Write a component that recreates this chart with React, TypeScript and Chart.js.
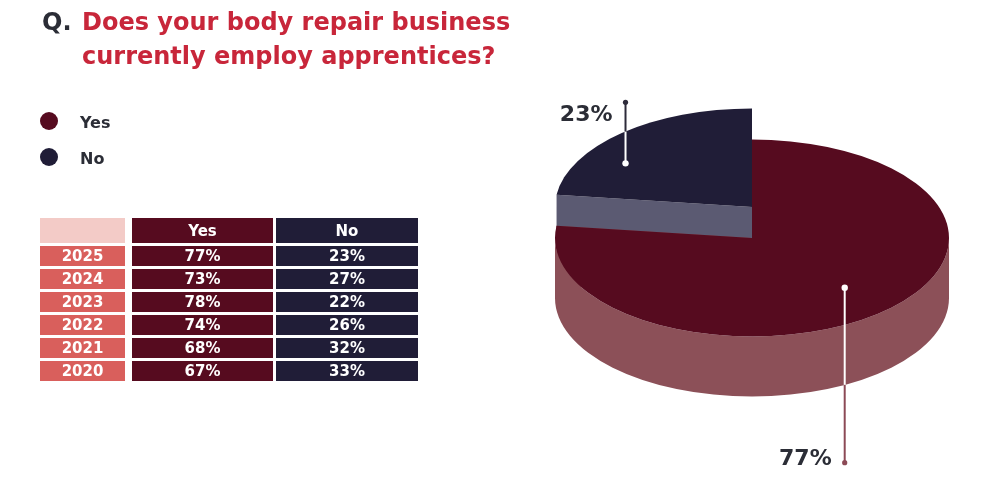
import React, { useEffect, useRef } from 'react';
import { Chart, registerables } from 'chart.js';

Chart.register(...registerables);

// ---- data ----
const SLICE_LABELS = ['Yes', 'No'];
const SLICE_VALUES = [77, 23];
const YEARS = ['2025', '2024', '2023', '2022', '2021', '2020'];
const YES_PCT = [77, 73, 78, 74, 68, 67];
const NO_PCT = [23, 27, 22, 26, 32, 33];
const TITLE_PREFIX = 'Q.';
const TITLE_LINES = ['Does your body repair business', 'currently employ apprentices?'];

// ---- style ----
const FONT = '"DejaVu Sans", "Noto Sans", sans-serif';
const TOP_COLORS = ['#560b1f', '#201d37'];
const SIDE_COLORS = ['#8c5058', '#5b5a72'];
const LEADER_COLORS = ['#8c4a56', '#2d2b3a'];
const TEXT_DARK = '#2b2d36';
const TITLE_RED = '#c8263a';
const YEAR_BG = '#d95f5c';
const HEAD_BG = '#f3cbc7';

const pie3d = {
  id: 'pie3d',
  beforeDatasetsDraw(chart: any, _args: any, opts: any) {
    const ctx: CanvasRenderingContext2D = chart.ctx;
    const meta = chart.getDatasetMeta(0);
    const values = chart.data.datasets[0].data as number[];
    const d = opts.depth;
    const slices = meta.data.map((arc: any, i: number) => {
      const p = arc.getProps(['x', 'y', 'startAngle', 'endAngle', 'outerRadius'], true);
      const rx = p.outerRadius;
      const ry = rx * opts.tilt;
      return {
        i,
        cx: p.x,
        cy: p.y - (opts.lift[i] || 0),
        rx,
        ry,
        a0: p.startAngle,
        a1: p.endAngle,
        color: arc.options.backgroundColor,
      };
    });
    const mid = (s: any) => (s.a0 + s.a1) / 2;
    const order = [...slices].sort(
      (a: any, b: any) => a.cy + a.ry * Math.sin(mid(a)) - (b.cy + b.ry * Math.sin(mid(b)))
    );

    for (const s of order) {
      ctx.save();
      ctx.fillStyle = opts.sideColors[s.i];
      // radial faces
      for (const a of [s.a0, s.a1]) {
        const ex = s.cx + s.rx * Math.cos(a);
        const ey = s.cy + s.ry * Math.sin(a);
        ctx.beginPath();
        ctx.moveTo(s.cx, s.cy);
        ctx.lineTo(ex, ey);
        ctx.lineTo(ex, ey + d);
        ctx.lineTo(s.cx, s.cy + d);
        ctx.closePath();
        ctx.fill();
      }
      // outer wall (front half only)
      for (let n = -1; n <= 2; n++) {
        const lo = Math.max(s.a0, n * 2 * Math.PI);
        const hi = Math.min(s.a1, n * 2 * Math.PI + Math.PI);
        if (hi > lo) {
          ctx.beginPath();
          ctx.ellipse(s.cx, s.cy, s.rx, s.ry, 0, lo, hi, false);
          ctx.ellipse(s.cx, s.cy + d, s.rx, s.ry, 0, hi, lo, true);
          ctx.closePath();
          ctx.fill();
        }
      }
      // top face
      ctx.fillStyle = s.color;
      ctx.beginPath();
      ctx.moveTo(s.cx, s.cy);
      ctx.ellipse(s.cx, s.cy, s.rx, s.ry, 0, s.a0, s.a1, false);
      ctx.closePath();
      ctx.fill();
      ctx.restore();
    }

    // leader lines + labels
    for (const s of slices) {
      const th = mid(s) + (opts.labelShift[s.i] * Math.PI) / 180;
      const f = opts.labelRadius[s.i];
      const ax = s.cx + f * s.rx * Math.cos(th);
      const ay = s.cy + f * s.ry * Math.sin(th);
      const up = Math.sin(th) < 0;
      const len = opts.leaderLength[s.i];
      const ey = up ? ay - len : ay + len;
      const t = Math.sqrt(Math.max(0, 1 - ((ax - s.cx) / s.rx) ** 2));
      const edge = up ? s.cy - s.ry * t : s.cy + d + s.ry * t;
      ctx.save();
      ctx.lineWidth = 2;
      ctx.strokeStyle = '#ffffff';
      ctx.beginPath();
      ctx.moveTo(ax, ay);
      ctx.lineTo(ax, edge);
      ctx.stroke();
      ctx.strokeStyle = opts.leaderColors[s.i];
      ctx.beginPath();
      ctx.moveTo(ax, edge);
      ctx.lineTo(ax, ey);
      ctx.stroke();
      ctx.fillStyle = '#ffffff';
      ctx.beginPath();
      ctx.arc(ax, ay, 3.2, 0, Math.PI * 2);
      ctx.fill();
      ctx.fillStyle = opts.leaderColors[s.i];
      ctx.beginPath();
      ctx.arc(ax, ey, 2.6, 0, Math.PI * 2);
      ctx.fill();
      ctx.font = `bold 22px ${FONT}`;
      ctx.fillStyle = TEXT_DARK;
      ctx.textAlign = 'right';
      ctx.textBaseline = 'alphabetic';
      const by = up ? ey + 19 : ey + 2;
      ctx.fillText(`${values[s.i]}%`, ax - 13, by);
      ctx.restore();
    }
    return false;
  },
};

const cellBase: React.CSSProperties = {
  display: 'flex',
  alignItems: 'center',
  justifyContent: 'center',
  color: '#ffffff',
  fontWeight: 'bold',
  fontSize: 15,
  fontFamily: FONT,
};

export default function App() {
  const ref = useRef<HTMLCanvasElement>(null);

  useEffect(() => {
    const chart = new Chart(ref.current as HTMLCanvasElement, {
      type: 'pie',
      data: {
        labels: SLICE_LABELS,
        datasets: [
          {
            data: SLICE_VALUES,
            backgroundColor: TOP_COLORS,
            borderWidth: 0,
          },
        ],
      },
      options: {
        responsive: false,
        animation: false,
        radius: 197,
        layout: { padding: { left: 555, right: 46, top: 41, bottom: 47 } },
        plugins: {
          legend: { display: false },
          tooltip: { enabled: false },
          pie3d: {
            tilt: 0.5,
            depth: 60,
            lift: [0, 31],
            sideColors: SIDE_COLORS,
            leaderColors: LEADER_COLORS,
            labelShift: [-1.6, -14],
            labelRadius: [0.69, 0.78],
            leaderLength: [175, 61],
          },
        },
      } as any,
      plugins: [pie3d as any],
    });
    return () => chart.destroy();
  }, []);

  const legendItem = (label: string, color: string, cy: number) => (
    <React.Fragment key={label}>
      <div
        style={{
          position: 'absolute',
          left: 40,
          top: cy - 9,
          width: 18,
          height: 18,
          borderRadius: '50%',
          background: color,
        }}
      />
      <div
        style={{
          position: 'absolute',
          left: 80,
          top: cy - 8,
          fontFamily: FONT,
          fontWeight: 'bold',
          fontSize: 16,
          lineHeight: '20px',
          color: TEXT_DARK,
        }}
      >
        {label}
      </div>
    </React.Fragment>
  );

  return (
    <div
      style={{
        position: 'absolute',
        left: 0,
        top: 0,
        width: 995,
        height: 482,
        background: '#ffffff',
        overflow: 'hidden',
        fontFamily: FONT,
      }}
    >
      <canvas ref={ref} width={995} height={482} style={{ position: 'absolute', left: 0, top: 0 }} />

      <div
        style={{
          position: 'absolute',
          left: 42,
          top: 5,
          fontWeight: 'bold',
          fontSize: 24,
          lineHeight: '34px',
          color: TEXT_DARK,
        }}
      >
        {TITLE_PREFIX}
      </div>
      <div
        style={{
          position: 'absolute',
          left: 82,
          top: 5,
          fontWeight: 'bold',
          fontSize: 24,
          lineHeight: '34px',
          color: TITLE_RED,
          whiteSpace: 'nowrap',
        }}
      >
        {TITLE_LINES.map((l) => (
          <div key={l}>{l}</div>
        ))}
      </div>

      {legendItem(SLICE_LABELS[0], TOP_COLORS[0], 121)}
      {legendItem(SLICE_LABELS[1], TOP_COLORS[1], 157)}

      <div
        style={{
          position: 'absolute',
          left: 40,
          top: 218,
          display: 'grid',
          gridTemplateColumns: '85px 7px 141px 3px 142px',
          gridTemplateRows: '25px repeat(6, 20px)',
          rowGap: 3,
        }}
      >
        <div style={{ ...cellBase, gridColumn: 1, gridRow: 1, background: HEAD_BG }} />
        <div style={{ ...cellBase, gridColumn: 3, gridRow: 1, background: TOP_COLORS[0] }}>
          {SLICE_LABELS[0]}
        </div>
        <div style={{ ...cellBase, gridColumn: 5, gridRow: 1, background: TOP_COLORS[1] }}>
          {SLICE_LABELS[1]}
        </div>
        {YEARS.map((y, r) => (
          <React.Fragment key={y}>
            <div style={{ ...cellBase, gridColumn: 1, gridRow: r + 2, background: YEAR_BG }}>{y}</div>
            <div style={{ ...cellBase, gridColumn: 3, gridRow: r + 2, background: TOP_COLORS[0] }}>
              {YES_PCT[r]}%
            </div>
            <div style={{ ...cellBase, gridColumn: 5, gridRow: r + 2, background: TOP_COLORS[1] }}>
              {NO_PCT[r]}%
            </div>
          </React.Fragment>
        ))}
      </div>
    </div>
  );
}
